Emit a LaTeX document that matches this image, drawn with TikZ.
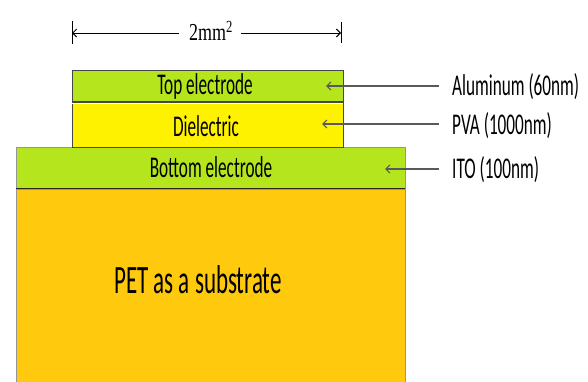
\documentclass[tikz,border=0pt]{standalone}
\usepackage{fontspec}
\usepackage{graphicx}
\setmainfont{Carlito}
\newfontfamily\timesf{Liberation Serif}
\usetikzlibrary{arrows.meta}
\definecolor{lime}{RGB}{181,230,29}
\definecolor{yel}{RGB}{255,242,0}
\definecolor{org}{RGB}{255,201,14}
\definecolor{edgegray}{RGB}{70,70,70}
\definecolor{lightedge}{RGB}{150,150,150}
\newcommand\vstretch[2]{\scalebox{1}[#1]{#2}}
\tikzset{
  layer/.style={draw=edgegray, line width=1pt, inner sep=0pt, outer sep=0pt},
  txt/.style={inner sep=0pt, font=\fontsize{17.2}{17}\selectfont},
  pointer/.style={draw=edgegray!90, line width=1.5pt, {Straight Barb[length=4pt,width=8pt,line width=1.2pt]}-},
  dimline/.style={draw=black, line width=0.9pt},
}
\begin{document}
\begin{tikzpicture}[x=1pt,y=-1pt]
\useasboundingbox (0,0) rectangle (588,381);
% substrate
\node[layer, draw=lightedge, fill=org, anchor=north west, minimum width=389pt, minimum height=200pt] (pet) at (16,189) {};
% bottom electrode
\node[layer, draw=lightedge, fill=lime, anchor=north west, minimum width=389pt, minimum height=41pt] (bot) at (16,147.5) {};
\draw[black!85, line width=1.8pt] (bot.south west) -- (bot.south east);
% dielectric
\node[layer, fill=yel, anchor=north west, minimum width=271pt, minimum height=45.5pt] (diel) at (72,102) {};
% top electrode
\node[layer, fill=lime, anchor=north west, minimum width=271pt, minimum height=31pt] (top) at (72,70.5) {};
\draw[edgegray, line width=1.8pt] (top.north west) -- (top.north east);
\draw[edgegray, line width=1.8pt] (diel.north west) -- (diel.north east);
\draw[white, line width=0.8pt] ([yshift=-1.5pt]top.south west) -- ([yshift=-1.5pt]top.south east);
% texts inside layers
\node[txt] (ttop) at (205,86) {\vstretch{1.75}{Top electrode}};
\node[txt] (tdiel) at (206,126) {\vstretch{1.75}{Dielectric}};
\node[txt] (tbot) at (211,167) {\vstretch{1.75}{Bottom electrode}};
\node[txt, font=\fontsize{23}{23}\selectfont] (tpet) at (198,280) {\vstretch{1.75}{PET as a substrate}};
% dimension
\coordinate (dl) at (72,33);
\coordinate (dr) at (341,33);
\node[inner sep=0pt, font=\timesf\fontsize{18}{18}\selectfont] (dim) at (211,31) {\vstretch{1.35}{2mm\textsuperscript{2}}};
\draw[dimline] ([yshift=-11pt]dl) -- ([yshift=12pt]dl);
\draw[dimline] ([yshift=-10pt]dr) -- ([yshift=11pt]dr);
\draw[dimline, -{Straight Barb[length=4pt,width=8pt]}] (dl -| dim.west) ++(-10pt,0) -- (dl);
\draw[dimline, -{Straight Barb[length=4pt,width=8pt]}] (dr -| dim.east) ++(8pt,0) -- (dr);
% labels
\node[txt, anchor=west] (lal) at (452,87) {\vstretch{1.75}{Aluminum (60nm)}};
\node[txt, anchor=west] (lpva) at (452,126) {\vstretch{1.75}{PVA (1000nm)}};
\node[txt, anchor=west] (lito) at (452,170) {\vstretch{1.75}{ITO (100nm)}};
\coordinate (ta) at (326,86);
\coordinate (tp) at (322,124);
\coordinate (ti) at (385,169);
\draw[pointer] (ta) -- ([xshift=-13pt]ta -| lal.west);
\draw[pointer] (tp) -- ([xshift=-13pt]tp -| lpva.west);
\draw[pointer] (ti) -- ([xshift=-13pt]ti -| lito.west);
\end{tikzpicture}
\end{document}
